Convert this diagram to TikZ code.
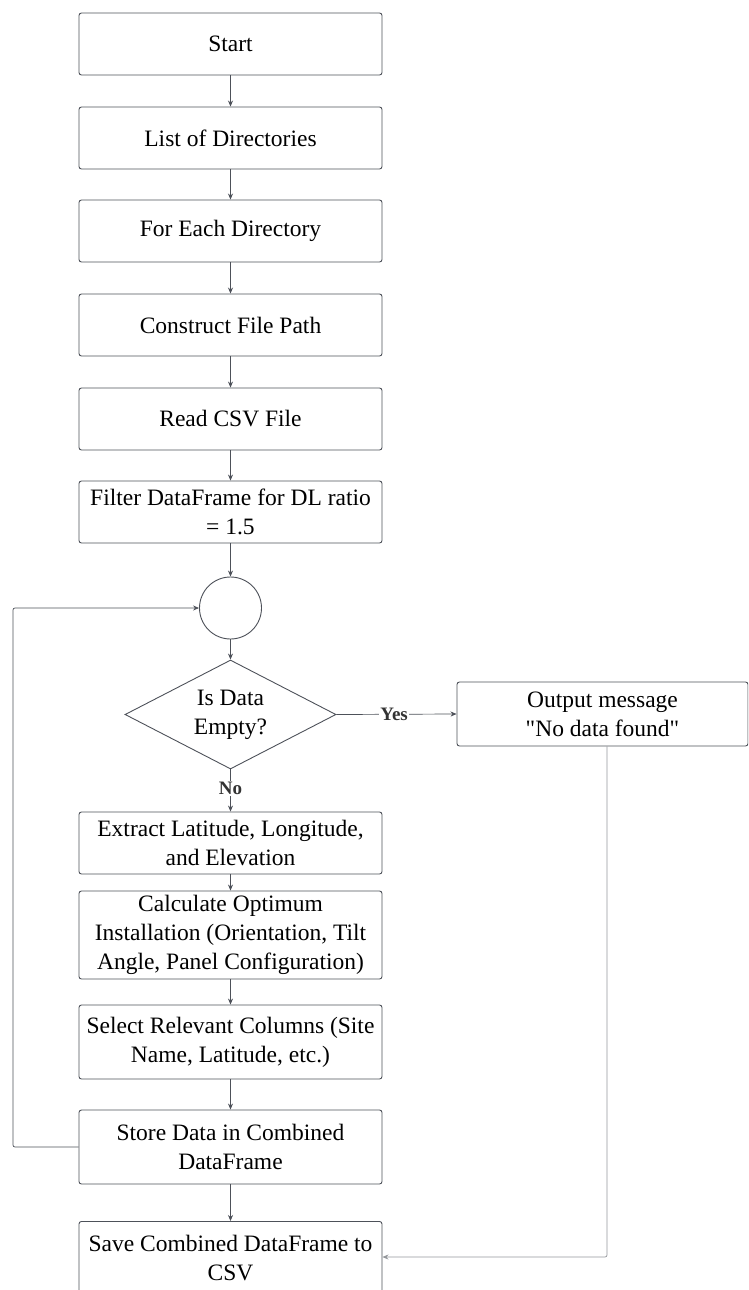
\documentclass[tikz,border=0pt]{standalone}
\usepackage{fontspec}
\setmainfont{Liberation Serif}
\usetikzlibrary{arrows.meta,shapes.geometric}
\definecolor{ln}{HTML}{4D5159}
\tikzset{
  box/.style={draw=ln, line width=0.9pt, rounded corners=2.5pt, align=center, font=\fontsize{23.5}{29}\selectfont, inner sep=0pt},
  conn/.style={draw=ln, line width=0.7pt, -{Stealth[length=6pt,width=5pt]}},
  lbl/.style={font=\fontsize{19}{22}\selectfont\bfseries, text=black!80, fill=white, inner sep=1pt}
}
\begin{document}
\begin{tikzpicture}[x=1pt,y=-1pt]
\useasboundingbox (0,0) rectangle (748,1290);
\clip (0,0) rectangle (748,1290);
\node[box, minimum width=303pt, minimum height=62pt] (start) at (230.5,44) {Start};
\node[box, minimum width=303pt, minimum height=62pt] (list) at (230.5,138) {List of Directories};
\node[box, minimum width=303pt, minimum height=62pt] (each) at (230.5,231) {For Each Directory};
\node[box, minimum width=303pt, minimum height=62pt] (path) at (230.5,325) {Construct File Path};
\node[box, minimum width=303pt, minimum height=62pt] (read) at (230.5,419) {Read CSV File};
\node[box, minimum width=303pt, minimum height=62pt] (filter) at (230.5,512) {Filter DataFrame for DL ratio\\= 1.5};
\node[draw=ln, line width=0.9pt, circle, minimum size=62pt, inner sep=0pt] (loop) at (230.5,608) {};
\node[draw=ln, line width=0.9pt, diamond, aspect=1.93, minimum width=211pt, minimum height=109pt, inner sep=0pt, align=center, font=\fontsize{23.5}{29}\selectfont] (empty) at (230.5,714.5) {Is Data\\Empty?};
\node[box, minimum width=291pt, minimum height=64pt] (out) at (602.5,714) {Output message\\\textquotedbl No data found\textquotedbl};
\node[box, minimum width=303pt, minimum height=62pt] (extract) at (230.5,843) {Extract Latitude, Longitude,\\and Elevation};
\node[box, minimum width=303pt, minimum height=88pt] (calc) at (230.5,935) {Calculate Optimum\\Installation (Orientation, Tilt\\Angle, Panel Configuration)};
\node[box, minimum width=303pt, minimum height=74pt] (select) at (230.5,1042) {Select Relevant Columns (Site\\Name, Latitude, etc.)};
\node[box, minimum width=303pt, minimum height=74pt] (store) at (230.5,1147) {Store Data in Combined\\DataFrame};
\node[box, minimum width=303pt, minimum height=74pt, anchor=north] (save) at (230.5,1221) {};
\node[align=center, font=\fontsize{23.5}{29}\selectfont] (savetxt) at (230.5,1258) {Save Combined DataFrame to\\CSV};
\coordinate (lb) at (13,1147);
\coordinate (lt) at (13,608);
\coordinate (ob) at (607,1257);
\draw[conn] (start) -- (list);
\draw[conn] (list) -- (each);
\draw[conn] (each) -- (path);
\draw[conn] (path) -- (read);
\draw[conn] (read) -- (filter);
\draw[conn] (filter) -- (loop);
\draw[conn] (loop) -- (empty);
\draw[conn] (empty.east) -- node[lbl, pos=0.48] {Yes} (out.west);
\draw[conn] (empty.south) -- node[lbl, pos=0.45] {No} (extract.north);
\draw[conn] (extract) -- (calc);
\draw[conn] (calc) -- (select);
\draw[conn] (select) -- (store);
\draw[conn] (store) -- (save);
\draw[conn, rounded corners=2pt] (store.west) -- (lb) -- (lt) -- (loop.west);
\draw[conn, draw=ln!60, rounded corners=2pt] (out.south -| ob) -- (ob) -- (save.east |- ob);
\end{tikzpicture}
\end{document}
